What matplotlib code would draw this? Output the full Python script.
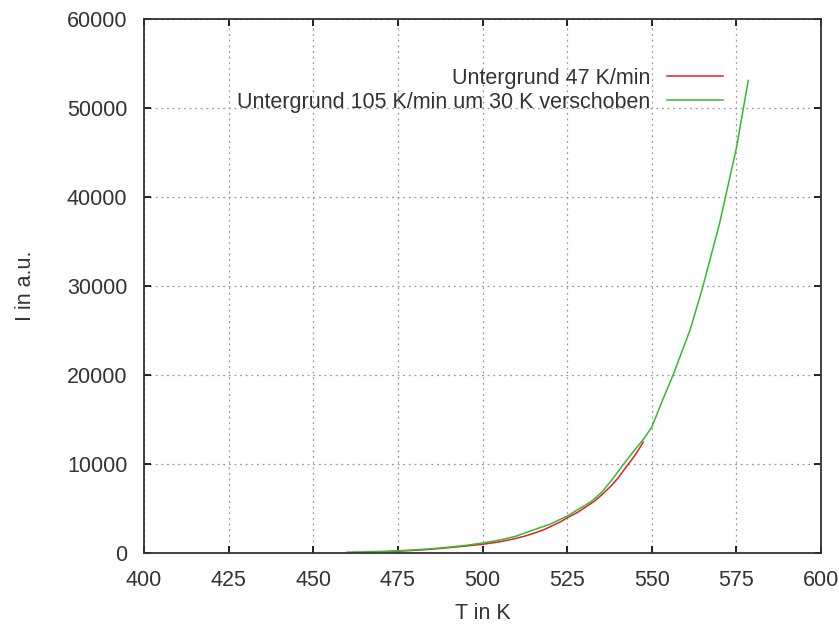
import matplotlib
matplotlib.use("Agg")
import matplotlib.pyplot as plt

plt.rcParams['font.family'] = ['Liberation Sans', 'DejaVu Sans']

# Untergrund 47 K/min
t_47 = [472, 476, 480, 485, 490, 495, 500, 505, 510, 513, 515, 518, 520, 523, 525,
        528, 530, 533, 535, 538, 540, 543, 545, 547.5]
i_47 = [150, 220, 300, 430, 600, 780, 980, 1250, 1650, 1950, 2200, 2600, 2950, 3500, 3950,
        4550, 5050, 5800, 6450, 7550, 8400, 9950, 10950, 12450]

# Untergrund 105 K/min um 30 K verschoben
t_105 = [460, 465, 470, 475, 480, 485, 490, 495, 500, 505, 510, 514, 517, 520, 525,
         530, 532, 535, 538, 541.5, 545, 547.5, 550, 553, 556.3, 561.3, 565, 570, 575, 578.5]
i_105 = [100, 130, 180, 250, 350, 480, 650, 850, 1120, 1450, 1900, 2450, 2850, 3250, 4150,
         5300, 5750, 6750, 8100, 9900, 11600, 12750, 14150, 17000, 20000, 25050, 29800, 37000, 45500, 53100]

label_47 = "Untergrund 47 K/min"
label_105 = "Untergrund 105 K/min um 30 K verschoben"

text_col = "#333333"
fs = 15.5

fig = plt.figure(figsize=(8.39, 6.25), dpi=100)
ax = fig.add_axes([0.1716, 0.1152, 0.807, 0.8544])

ax.plot(t_47, i_47, color="#dd2222", lw=1.1, label=label_47)
ax.plot(t_105, i_105, color="#33bb33", lw=1.1, label=label_105)

ax.set_xlim(400, 600)
ax.set_ylim(0, 60000)
ax.set_xticks(range(400, 601, 25))
ax.set_yticks(range(0, 60001, 10000))

ax.grid(True, color="#999999", linestyle=(0, (1.5, 3)), lw=0.9)
ax.tick_params(direction="in", length=5, width=1.2, top=True, right=True,
               labelsize=fs, labelcolor=text_col)
ax.tick_params(axis="x", pad=12)
ax.tick_params(axis="y", pad=12)
for s in ax.spines.values():
    s.set_color("#333333")
    s.set_linewidth(1.3)

ax.set_xlabel("T in K", fontsize=fs, color=text_col, labelpad=9)
ax.set_ylabel("I in a.u.", fontsize=fs, color=text_col, labelpad=22)

ax.legend(loc="upper right", bbox_to_anchor=(0.884, 0.945), frameon=False,
          markerfirst=False, fontsize=fs, handlelength=2.6, handletextpad=0.8,
          labelspacing=0.15, labelcolor=text_col)
for t in ax.get_legend().get_texts():
    t.set_ha("right")

fig.savefig("out.png", dpi=100)
